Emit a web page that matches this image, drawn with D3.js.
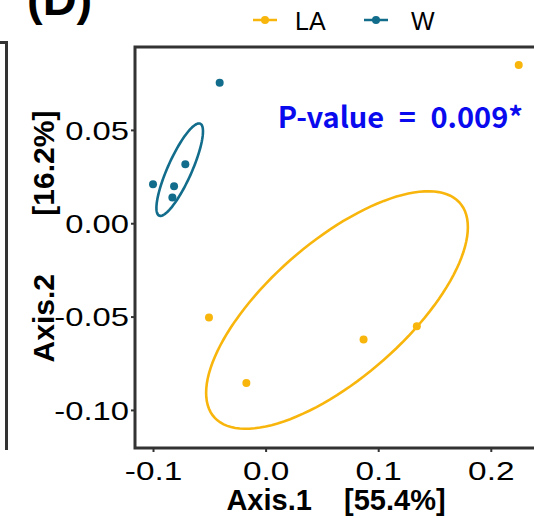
<!DOCTYPE html>
<html><head><meta charset="utf-8">
<script src="https://cdn.jsdelivr.net/npm/d3@7"></script>
<style>html,body{margin:0;padding:0;background:#fff;overflow:hidden}</style>
</head><body>
<svg id="chart" width="534" height="518"></svg>
<script>
// ---- data ----
const groups = ["LA", "W"];
const groupColors = ["#F8B50C", "#126C8B"];
const pointsLA_x = [-0.0503, -0.0171, 0.0870, 0.1343, 0.2248];
const pointsLA_y = [-0.0505, -0.0856, -0.0623, -0.0552, 0.0847];
const pointsW_x = [-0.0408, -0.1000, -0.0813, -0.0713, -0.0828];
const pointsW_y = [0.0752, 0.0209, 0.0198, 0.0316, 0.0138];
// ellipse: center and shape matrix (data units)
const ellipseLA = {cx: 0.0634, cy: -0.0465, sxx: 0.013511, syy: 0.004047, sxy: 0.005159};
const ellipseW = {cx: -0.0763, cy: 0.0287, sxx: 0.0004275, syy: 0.000613, sxy: 0.000424};
const xTicks = [-0.1, 0.0, 0.1, 0.2];
const xTickLabels = ["-0.1", "0.0", "0.1", "0.2"];
const yTicks = [0.05, 0.00, -0.05, -0.10];
const yTickLabels = ["0.05", "0.00", "-0.05", "-0.10"];
const xTitle = "Axis.1    [55.4%]";
const yTitle = "Axis.2       [16.2%]";
const pText = "P-value = 0.009*";
const panelLabel = "(D)";

// ---- layout ----
const svg = d3.select("#chart");
const L = 135, R = 540, T = 47, B = 448;
const x = d3.scaleLinear().domain([-0.116, 0.2437]).range([L, R]);
const y = d3.scaleLinear().domain([-0.1204, 0.0944]).range([B, T]);
const font = "'Liberation Sans', Arial, sans-serif";
const sx = 1.26; // horizontal stretch of tick labels

// left neighbour panel remnant
svg.append("path").attr("d", `M0,42.5 H6.5 V450`).attr("fill", "none")
  .attr("stroke", "#333").attr("stroke-width", 3);

// panel label
svg.append("text").attr("x", 27).attr("y", 15).text(panelLabel)
  .attr("font-family", font).attr("font-weight", "bold").attr("font-size", 47).attr("fill", "#000");

// legend
const legX = [253, 364];
groups.forEach((g, i) => {
  const lg = svg.append("g");
  lg.append("line").attr("x1", legX[i]).attr("x2", legX[i] + 24).attr("y1", 20).attr("y2", 20)
    .attr("stroke", groupColors[i]).attr("stroke-width", 2.5);
  lg.append("circle").attr("cx", legX[i] + 12).attr("cy", 20).attr("r", 4).attr("fill", groupColors[i]);
  lg.append("text").attr("x", legX[i] + (i === 0 ? 42 : 47)).attr("y", 30).text(g)
    .attr("font-family", font).attr("font-size", 25).attr("fill", "#000");
});

// axes
const xAxis = d3.axisBottom(x).tickValues(xTicks).tickFormat((d, i) => xTickLabels[i]).tickSize(4);
const gx = svg.append("g").attr("transform", `translate(0,${B})`).call(xAxis);
gx.select(".domain").remove();
gx.selectAll(".tick line").attr("stroke", "#333").attr("stroke-width", 2);
gx.selectAll(".tick text").attr("font-family", font).attr("font-size", 26.5).attr("fill", "#000")
  .attr("y", 32.5).attr("dy", 0).attr("transform", `scale(${sx},1)`);

const yAxis = d3.axisLeft(y).tickValues(yTicks).tickFormat((d, i) => yTickLabels[i]).tickSize(4);
const gy = svg.append("g").attr("transform", `translate(${L},0)`).call(yAxis);
gy.select(".domain").remove();
gy.selectAll(".tick line").attr("stroke", "#333").attr("stroke-width", 2);
gy.selectAll(".tick text").attr("font-family", font).attr("font-size", 26).attr("fill", "#000")
  .attr("x", -6 / sx).attr("dy", "0.36em").attr("transform", `scale(${sx},1)`);

// frame
svg.append("rect").attr("x", L).attr("y", T).attr("width", R - L).attr("height", B - T)
  .attr("fill", "none").attr("stroke", "#333").attr("stroke-width", 3);

// ellipses
function ellipsePts(e) {
  const l11 = Math.sqrt(e.sxx), l21 = e.sxy / l11, l22 = Math.sqrt(e.syy - l21 * l21);
  return d3.range(0, 361, 3).map(a => {
    const t = a * Math.PI / 180;
    return [e.cx + l11 * Math.cos(t), e.cy + l21 * Math.cos(t) + l22 * Math.sin(t)];
  });
}
const line = d3.line().x(d => x(d[0])).y(d => y(d[1])).curve(d3.curveLinearClosed);
[ellipseLA, ellipseW].forEach((e, i) => {
  svg.append("path").attr("d", line(ellipsePts(e))).attr("fill", "none")
    .attr("stroke", groupColors[i]).attr("stroke-width", 2.6);
});

// points
const sets = [[pointsLA_x, pointsLA_y], [pointsW_x, pointsW_y]];
sets.forEach((s, i) => {
  svg.append("g").selectAll("circle").data(s[0]).join("circle")
    .attr("cx", d => x(d)).attr("cy", (d, j) => y(s[1][j])).attr("r", 4).attr("fill", groupColors[i]);
});

// p-value
svg.append("text").attr("x", 523).attr("y", 128).attr("text-anchor", "end").text(pText)
  .attr("font-family", "'Noto Sans CJK KR', 'Noto Sans', sans-serif").attr("font-weight", "bold")
  .attr("font-size", 29).attr("fill", "#0A0AEE").attr("word-spacing", "8px");

// axis titles
svg.append("text").attr("x", 336).attr("y", 510).attr("text-anchor", "middle").text(xTitle)
  .attr("font-family", font).attr("font-weight", "bold").attr("font-size", 29).attr("fill", "#000")
  .style("white-space", "pre");
svg.append("text").attr("transform", "translate(54,236.5) rotate(-90)").attr("text-anchor", "middle").text(yTitle)
  .attr("font-family", font).attr("font-weight", "bold").attr("font-size", 30).attr("fill", "#000")
  .style("white-space", "pre");
</script>
</body></html>
